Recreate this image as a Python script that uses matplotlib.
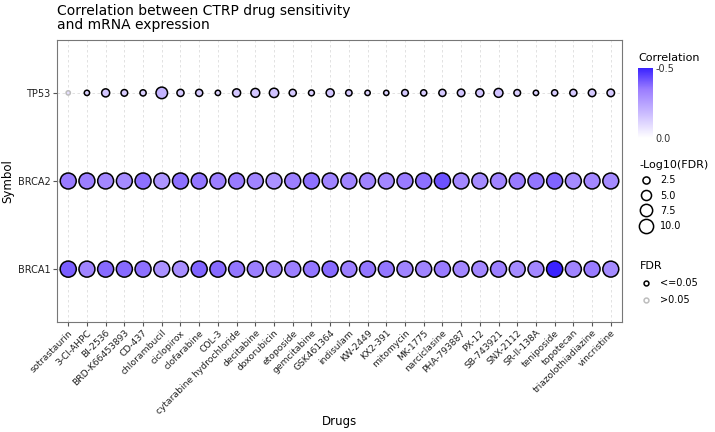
import numpy as np
import matplotlib
matplotlib.use("Agg")
import matplotlib.pyplot as plt
from matplotlib.colors import LinearSegmentedColormap, Normalize
from matplotlib.lines import Line2D

drugs = ["sotrastaurin", "3-Cl-AHPC", "BI-2536", "BRD-K66453893", "CD-437",
         "chlorambucil", "ciclopirox", "clofarabine", "COL-3",
         "cytarabine hydrochloride", "decitabine", "doxorubicin", "etoposide",
         "gemcitabine", "GSK461364", "indisulam", "KW-2449", "KX2-391",
         "mitomycin", "MK-1775", "narciclasine", "PHA-793887", "PX-12",
         "SB-743921", "SNX-2112", "SR-II-138A", "teniposide", "topotecan",
         "triazolothiadiazine", "vincristine"]
symbols = ["BRCA1", "BRCA2", "TP53"]

# correlation per symbol
cor_brca1 = [-0.40, -0.33, -0.38, -0.38, -0.37, -0.29, -0.30, -0.39, -0.38, -0.36,
             -0.34, -0.33, -0.34, -0.36, -0.38, -0.34, -0.36, -0.36, -0.33, -0.33,
             -0.35, -0.32, -0.32, -0.34, -0.31, -0.32, -0.50, -0.33, -0.35, -0.31]
cor_brca2 = [-0.35, -0.34, -0.32, -0.31, -0.37, -0.28, -0.37, -0.36, -0.34, -0.35,
             -0.33, -0.29, -0.34, -0.37, -0.33, -0.33, -0.33, -0.32, -0.35, -0.37,
             -0.42, -0.32, -0.31, -0.33, -0.35, -0.36, -0.39, -0.31, -0.32, -0.31]
cor_tp53 = [-0.08, -0.12, -0.15, -0.13, -0.12, -0.20, -0.14, -0.14, -0.12, -0.15,
            -0.15, -0.16, -0.14, -0.12, -0.15, -0.14, -0.12, -0.12, -0.14, -0.13,
            -0.14, -0.15, -0.15, -0.16, -0.13, -0.12, -0.13, -0.14, -0.14, -0.14]

# -log10(FDR) per symbol
fdr_brca1 = [12.8, 12.6, 12.7, 12.7, 12.7, 12.5, 12.5, 12.7, 12.7, 12.6,
             12.6, 12.6, 12.6, 12.6, 12.7, 12.6, 12.6, 12.6, 12.6, 12.6,
             12.6, 12.5, 12.5, 12.6, 12.5, 12.5, 12.9, 12.6, 12.6, 12.5]
fdr_brca2 = [12.6, 12.6, 12.5, 12.5, 12.7, 12.4, 12.7, 12.6, 12.6, 12.6,
             12.6, 12.4, 12.6, 12.7, 12.6, 12.6, 12.6, 12.5, 12.6, 12.7,
             12.8, 12.5, 12.5, 12.6, 12.6, 12.6, 12.7, 12.5, 12.5, 12.5]
fdr_tp53 = [0.9, 1.4, 3.2, 2.2, 1.9, 6.6, 2.5, 2.5, 1.4, 3.2,
            3.9, 4.3, 2.5, 1.7, 3.2, 2.0, 1.4, 1.35, 2.2, 1.9,
            2.5, 2.8, 3.2, 3.9, 2.2, 1.4, 1.9, 2.5, 2.8, 2.8]

size_breaks = [2.5, 5.0, 7.5, 10.0]

cmap = LinearSegmentedColormap.from_list(
    "cor", [(0.0, "#3a22ff"), (0.3, "#9a7cff"), (0.65, "#cbbcff"), (1.0, "#ffffff")])
norm = Normalize(vmin=-0.5, vmax=0.0)

def msize(v):
    return 10.5 * np.asarray(v)

fig = plt.figure(figsize=(7.15, 4.32), dpi=100)
ax = fig.add_axes([57 / 715, 1 - 322 / 432, 565 / 715, 282 / 432])

x = np.arange(len(drugs))
rows = [cor_brca1, cor_brca2, cor_tp53]
fdrs = [fdr_brca1, fdr_brca2, fdr_tp53]
for yi, (cor, fdr) in enumerate(zip(rows, fdrs)):
    cor = np.array(cor)
    fdr = np.array(fdr)
    sig = fdr >= -np.log10(0.05)
    edge = np.where(sig, "black", "#bdbdbd")
    ax.scatter(x, np.full(len(x), yi), s=msize(fdr), c=cor, cmap=cmap, norm=norm,
               edgecolors=edge, linewidths=1.1, zorder=3)

ax.set_xlim(-0.6, len(drugs) - 0.4)
ax.set_ylim(-0.6, 2.6)
ax.set_xticks(x)
ax.set_xticklabels(drugs, rotation=45, ha="right", rotation_mode="anchor", fontsize=6.6)
ax.set_yticks(range(3))
ax.set_yticklabels(symbols, fontsize=7)
ax.tick_params(length=3, color="#555555", labelcolor="#222222", pad=1.5)
ax.grid(True, linestyle=(0, (3, 3)), color="#dddddd", linewidth=0.6, zorder=0)
ax.set_axisbelow(True)
for sp in ax.spines.values():
    sp.set_color("#777777")
    sp.set_linewidth(0.8)
ax.set_xlabel("Drugs", fontsize=8.5)
ax.xaxis.set_label_coords(0.5, -(422 - 322) / 282)
ax.xaxis.label.set_va("center")
ax.set_ylabel("Symbol", fontsize=8.5, labelpad=3)
fig.text(57 / 715, 1 - 4 / 432, "Correlation between CTRP drug sensitivity\nand mRNA expression",
         fontsize=10, va="top", ha="left", linespacing=1.0)

# colorbar legend
fig.text(638 / 715, 1 - 58 / 432, "Correlation", fontsize=8, va="center", ha="left")
cax = fig.add_axes([638 / 715, 1 - 138 / 432, 15 / 715, 70 / 432])
cb = fig.colorbar(plt.cm.ScalarMappable(norm=norm, cmap=cmap), cax=cax)
cb.outline.set_visible(False)
cax.invert_yaxis()
cb.set_ticks([-0.5, 0.0])
cb.set_ticklabels(["-0.5", "0.0"])
cax.tick_params(length=0, labelsize=7, pad=2, labelcolor="#333333")

# size legend
size_handles = [Line2D([], [], linestyle="", marker="o", markersize=np.sqrt(msize(b)),
                       markerfacecolor="none", markeredgecolor="black", markeredgewidth=1.1)
                for b in size_breaks]
leg1 = fig.legend(size_handles, ["%.1f" % b for b in size_breaks], title="-Log10(FDR)",
                  loc="upper left", bbox_to_anchor=(633 / 715, 1 - 153 / 432), frameon=False,
                  fontsize=7, title_fontsize=8, handletextpad=0.9, labelspacing=0.55,
                  borderpad=0.2, handlelength=1.2, alignment="left")
fdr_handles = [Line2D([], [], linestyle="", marker="o", markersize=3.5,
                      markerfacecolor="none", markeredgecolor=c, markeredgewidth=1.1)
               for c in ["black", "#bdbdbd"]]
leg2 = fig.legend(fdr_handles, ["<=0.05", ">0.05"], title="FDR",
                  loc="upper left", bbox_to_anchor=(633 / 715, 1 - 254 / 432), frameon=False,
                  fontsize=7, title_fontsize=8, handletextpad=0.9, labelspacing=0.75,
                  borderpad=0.2, handlelength=1.2, alignment="left")

fig.savefig("out.png", dpi=100)
